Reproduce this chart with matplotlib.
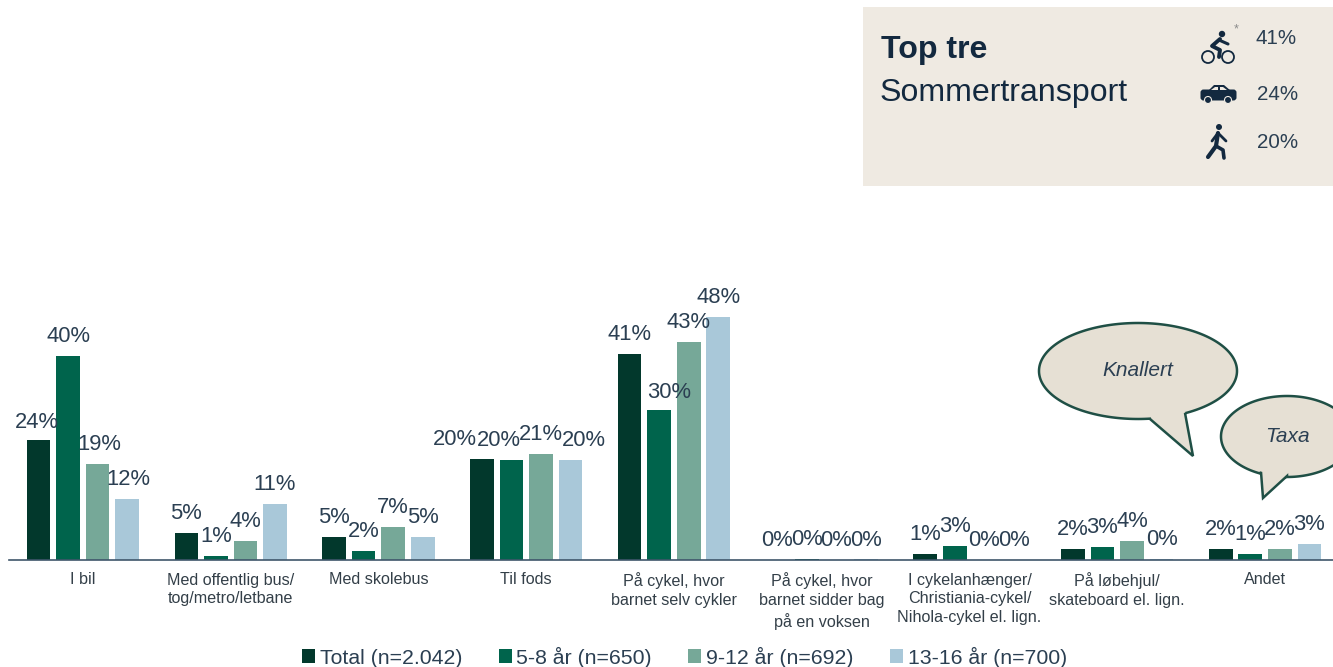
import numpy as np
import matplotlib
matplotlib.use('Agg')
import matplotlib.pyplot as plt
from matplotlib.patches import Patch, Polygon, Rectangle, Circle, FancyBboxPatch

plt.rcParams['font.family'] = ['Liberation Sans', 'DejaVu Sans']

categories = ['I bil', 'Med offentlig bus/\ntog/metro/letbane', 'Med skolebus', 'Til fods',
              'På cykel, hvor\nbarnet selv cykler', 'På cykel, hvor\nbarnet sidder bag\npå en voksen',
              'I cykelanhænger/\nChristiania-cykel/\nNihola-cykel el. lign.',
              'På løbehjul/\nskateboard el. lign.', 'Andet']
total = [23.6, 5.3, 4.6, 19.9, 40.6, 0.0, 1.2, 2.1, 2.1]
age_5_8 = [40.2, 0.8, 1.8, 19.7, 29.6, 0.2, 2.8, 2.6, 1.2]
age_9_12 = [18.9, 3.7, 6.6, 20.9, 43.0, 0.0, 0.0, 3.7, 2.1]
age_13_16 = [12.0, 11.0, 4.6, 19.7, 47.9, 0.1, 0.0, 0.2, 3.1]

series_names = ['Total (n=2.042)', '5-8 år (n=650)', '9-12 år (n=692)', '13-16 år (n=700)']
series = [total, age_5_8, age_9_12, age_13_16]
colors = ['#02382C', '#00644C', '#76A898', '#A9C8D9']

top_values = ['41%', '24%', '20%']

TEXT = '#2B3F52'
DARK = '#13293F'

W, H = 1333, 667
fig = plt.figure(figsize=(W / 100, H / 100), dpi=100)

# chart axes, base line at y=560 in the picture
ax = fig.add_axes([9 / W, (H - 560) / H, (W - 9) / W, 300 / H])
ax.set_xlim(-0.5, 8.46)
ax.set_ylim(0, 300 / 5.07)

# labels the original pushed sideways so they don't collide, in pixels (series, group)
nudge = {(0, 0): (-2, -2), (2, 0): (2, 0), (3, 0): (1, 0), (0, 3): (-27, 0), (1, 3): (-13, 0),
         (3, 3): (13, 0), (1, 4): (10, -2)}

x = np.arange(len(categories))
for i, vals in enumerate(series):
    bars = ax.bar(x + (i - 1.5) * 0.2, vals, width=0.16, color=colors[i], label=series_names[i])
    for j, (b, v) in enumerate(zip(bars, vals)):
        dx, dy = nudge.get((i, j), (0, 0))
        ax.annotate('%.0f%%' % v, (b.get_x() + b.get_width() / 2, v),
                    xytext=(dx * 0.72, 10 + dy * 0.72),
                    textcoords='offset points', ha='center', va='baseline',
                    fontsize=15.8, color=TEXT)

for s in ['top', 'left', 'right']:
    ax.spines[s].set_visible(False)
ax.spines['bottom'].set_color('#3F566B')
ax.spines['bottom'].set_linewidth(1.2)
ax.set_yticks([])
ax.set_xticks(x)
ax.set_xticklabels(categories, fontsize=11.6, color='#333F48', linespacing=1.32)
ax.tick_params(axis='x', length=0, pad=9)

handles = [Patch(facecolor=c, edgecolor='none', label=n) for c, n in zip(colors, series_names)]
fig.legend(handles=handles, ncol=4, frameon=False, fontsize=15.3, labelcolor=TEXT,
           loc='center', bbox_to_anchor=(684.5 / W, (H - 657) / H),
           handlelength=0.62, handleheight=0.62, handletextpad=0.22, columnspacing=1.7)

# overlay in picture pixels for the box and the callouts
ov = fig.add_axes([0, 0, 1, 1], zorder=5)
ov.set_xlim(0, W)
ov.set_ylim(H, 0)
ov.axis('off')
ov.patch.set_alpha(0)

ov.add_patch(Rectangle((863, 7), 470, 179, color='#EFEAE2', lw=0))
ov.text(881, 50, 'Top tre', fontsize=23.1, fontweight='bold', color=DARK, va='center')
ov.text(880, 93, 'Sommertransport', fontsize=23.1, color=DARK, va='center')
for yy, xx, t in zip([39, 95, 143], [1256, 1257, 1257], top_values):
    ov.text(xx, yy, t, fontsize=14.8, color=TEXT, va='center')
ov.text(1236, 29, '*', fontsize=9, color='#8A8A8A', ha='center', va='center')

# bike
for cx in [1208, 1228]:
    ov.add_patch(Circle((cx, 57), 6, fc='none', ec=DARK, lw=1.3))
ov.add_patch(Circle((1222, 34), 3.2, color=DARK, lw=0))
ov.plot([1220, 1212, 1220, 1219], [39, 46, 50, 57], color=DARK, lw=2.8, solid_capstyle='round')
ov.plot([1219, 1228], [40, 44], color=DARK, lw=2.2, solid_capstyle='round')

# car
ov.add_patch(FancyBboxPatch((1202, 91), 33, 8, boxstyle='round,pad=1.5,rounding_size=3', color=DARK, lw=0))
ov.add_patch(Polygon([[1208, 91], [1214, 85], [1224, 85], [1231, 91]], color=DARK, lw=0))
ov.add_patch(Polygon([[1211, 90], [1215, 87], [1218, 87], [1218, 90]], color='#EFEAE2', lw=0))
ov.add_patch(Polygon([[1220, 87], [1223, 87], [1227, 90], [1220, 90]], color='#EFEAE2', lw=0))
for cx in [1208, 1228]:
    ov.add_patch(Circle((cx, 100), 3.5, fc=DARK, ec='#EFEAE2', lw=0.8, zorder=4))

# walker
ov.add_patch(Circle((1219, 127), 3, color=DARK, lw=0))
ov.plot([1218, 1216, 1208], [133, 146, 157], color=DARK, lw=3, solid_capstyle='round')
ov.plot([1216, 1223, 1224], [146, 150, 158], color=DARK, lw=2.6, solid_capstyle='round')
ov.plot([1212, 1218, 1226], [141, 133, 141], color=DARK, lw=2, solid_capstyle='round')


def bubble(cx, cy, rx, ry, base1, tip, base2):
    # ellipse outline that opens between the two base points of the tail
    a1 = np.arctan2((base1[1] - cy) / ry, (base1[0] - cx) / rx)
    a2 = np.arctan2((base2[1] - cy) / ry, (base2[0] - cx) / rx)
    t = np.linspace(a1, a2 - 2 * np.pi, 200) if a2 > a1 else np.linspace(a1, a2, 200)
    pts = np.column_stack([cx + rx * np.cos(t), cy + ry * np.sin(t)])
    pts = np.vstack([pts, base2, tip, base1])
    ov.add_patch(Polygon(pts, closed=True, fc='#E6E0D4', ec='#1F4F45', lw=1.8, clip_on=True))


bubble(1138, 371, 99, 48, (1185, 413), (1193, 456), (1150, 419))
bubble(1287, 436.5, 66, 40.5, (1287, 476), (1263, 498), (1261, 472))
ov.text(1138, 371, 'Knallert', fontsize=15, style='italic', color=TEXT, ha='center', va='center')
ov.text(1287, 437, 'Taxa', fontsize=15, style='italic', color=TEXT, ha='center', va='center')

fig.savefig('out.png', dpi=100)
